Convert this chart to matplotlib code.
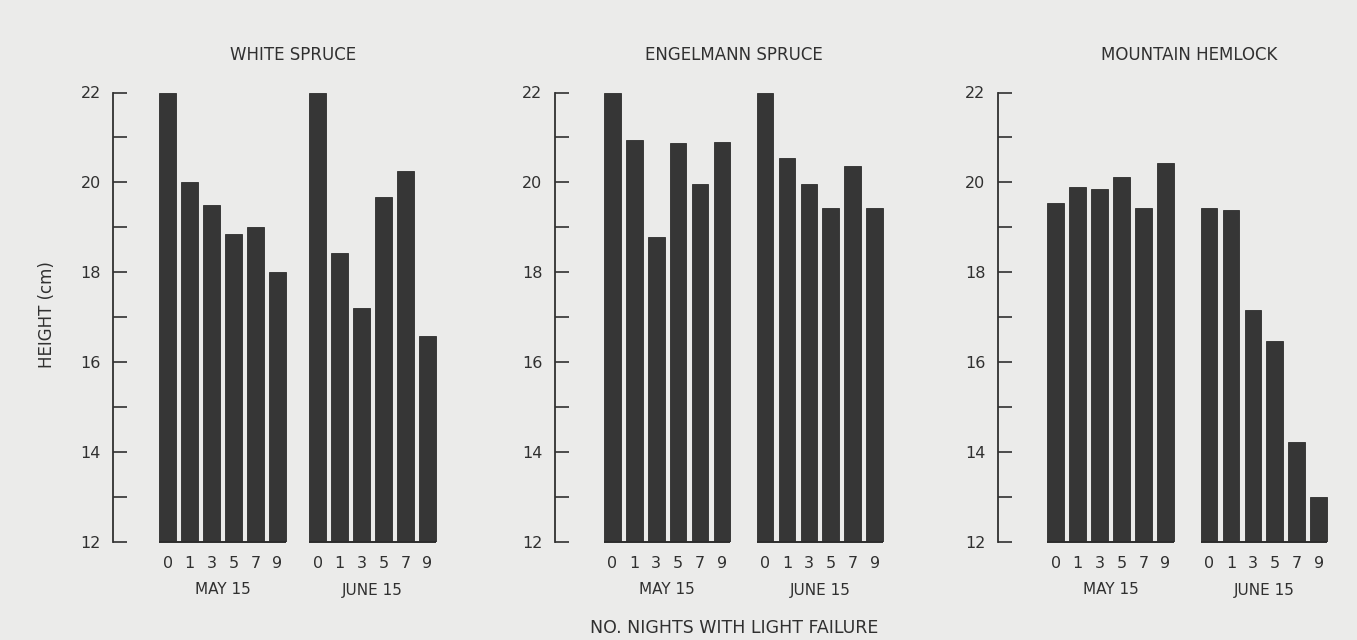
import numpy as np
import matplotlib
matplotlib.use("Agg")
import matplotlib.pyplot as plt
from matplotlib.transforms import blended_transform_factory

# ---- data ----
species = ["WHITE SPRUCE", "ENGELMANN SPRUCE", "MOUNTAIN HEMLOCK"]
nights = ["0", "1", "3", "5", "7", "9"]
dates = ["MAY 15", "JUNE 15"]
white_may = [22.0, 20.0, 19.5, 18.85, 19.0, 18.0]
white_june = [22.0, 18.43, 17.2, 19.68, 20.25, 16.58]
engel_may = [22.0, 20.95, 18.78, 20.87, 19.96, 20.9]
engel_june = [21.98, 20.55, 19.96, 19.42, 20.36, 19.44]
hemlock_may = [19.55, 19.9, 19.85, 20.13, 19.44, 20.44]
hemlock_june = [19.44, 19.38, 17.17, 16.47, 14.23, 13.0]
values = [(white_may, white_june), (engel_may, engel_june), (hemlock_may, hemlock_june)]
yticks_major = [12, 14, 16, 18, 20, 22]
yticks_minor = [13, 15, 17, 19, 21]

# ---- style / layout ----
W, H = 1357, 640
bg = "#ebebea"
bar_c = "#363636"
ink = "#303030"
period = 21.94  # px per bar slot
bar_w = 0.76
# (axis line x px, first bar centre px, june offset px, title centre px)
layout = [(113.3, 167.6, 150.0, 293),
          (555.0, 612.3, 152.7, 734),
          (998.0, 1055.6, 153.4, 1189)]
y_top, y_bot = 92.5, 542.0
plt.rcParams["font.family"] = ["DejaVu Sans"]

fig = plt.figure(figsize=(W / 100, H / 100), dpi=100, facecolor=bg)

for i, (ax_x, c0, joff, tcx) in enumerate(layout):
    width_px = c0 + joff + 5 * period + 20 - ax_x
    ax = fig.add_axes([ax_x / W, (H - y_bot) / H, width_px / W, (y_bot - y_top) / H])
    ax.set_facecolor("none")
    left = -(c0 - ax_x) / period
    ax.set_xlim(left, left + width_px / period)
    ax.set_ylim(12, 22)
    x_may = np.arange(6)
    x_june = np.arange(6) + joff / period
    may, june = values[i]
    for xs, vals in ((x_may, may), (x_june, june)):
        ax.bar(xs, vals, width=bar_w, color=bar_c, edgecolor="#2c2c2c", linewidth=0.6)
        ax.plot([xs[0] - bar_w / 2, xs[-1] + bar_w / 2], [12, 12], color="#2c2c2c",
                lw=1.4, clip_on=False, solid_capstyle="butt")
    for s in ("top", "right", "bottom"):
        ax.spines[s].set_visible(False)
    ax.spines["left"].set_color(ink)
    ax.spines["left"].set_linewidth(1.3)
    ax.set_yticks(yticks_major)
    ax.set_yticks(yticks_minor, minor=True)
    ax.tick_params(axis="y", which="both", direction="in", length=10, width=1.2,
                   colors=ink, pad=9, labelsize=11.5)
    ax.set_xticks(np.concatenate([x_may, x_june]), nights * 2)
    ax.tick_params(axis="x", length=0, pad=10, labelsize=11.5, colors=ink)
    trans = blended_transform_factory(ax.transData, ax.transAxes)
    for xs, d in ((x_may, dates[0]), (x_june, dates[1])):
        ax.text(xs.mean(), -(590 - y_bot) / (y_bot - y_top), d, transform=trans,
                ha="center", va="center", fontsize=11, color=ink)
    fig.text(tcx / W, 1 - 55 / H, species[i], ha="center", va="center",
             fontsize=12, color=ink)

fig.text(734 / W, 1 - 628 / H, "NO. NIGHTS WITH LIGHT FAILURE", ha="center",
         va="center", fontsize=12.5, color=ink)
fig.text(47 / W, 1 - 315 / H, "HEIGHT (cm)", ha="center", va="center",
         rotation=90, fontsize=12, color=ink)

fig.savefig("out.png", dpi=100, facecolor=bg)
